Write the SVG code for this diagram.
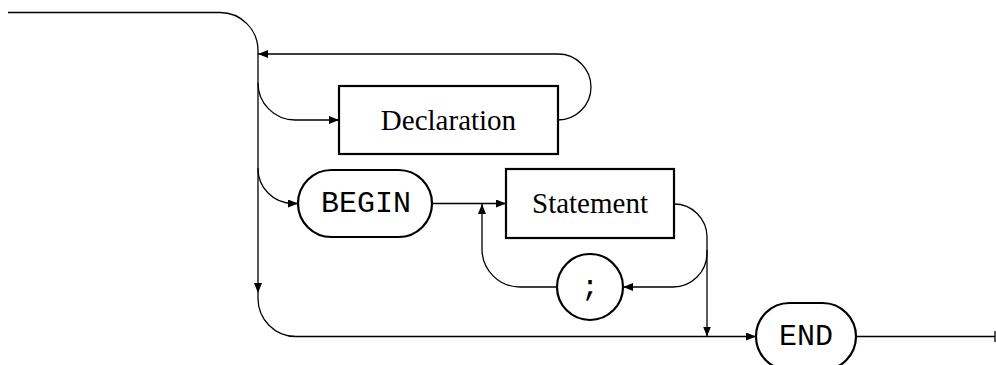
<svg xmlns="http://www.w3.org/2000/svg" width="996" height="365" viewBox="0 0 996 365">
<style>
.c{fill:none;stroke:#000;stroke-width:1.3}
.n{fill:#fff;stroke:#000;stroke-width:2.2}
.s{font-family:"Liberation Serif",serif;font-size:29px;text-anchor:middle}
.m{font-family:"Liberation Mono",monospace;font-size:30px;text-anchor:middle}
</style>
<defs>
<marker id="a" markerUnits="userSpaceOnUse" markerWidth="11" markerHeight="9" refX="10" refY="4" orient="auto" viewBox="0 0 11 9">
<path d="M0,0 L10,4 L0,8 z" fill="#000"/>
</marker>
</defs>
<g id="connectors">
<path class="c" d="M8,12.5 H220 A38,38 0 0 1 258,50.5 V293" marker-end="url(#a)"/>
<path class="c" d="M258,293 V298 A38,38 0 0 0 296,336.5 H756" marker-end="url(#a)"/>
<path class="c" d="M558,120 A33,33 0 0 0 558,54 H258" marker-end="url(#a)"/>
<path class="c" d="M258,83 A37,37 0 0 0 295,120 H339" marker-end="url(#a)"/>
<path class="c" d="M258,168 A35,35 0 0 0 293,203.5 H298" marker-end="url(#a)"/>
<path class="c" d="M432,203.5 H506" marker-end="url(#a)"/>
<path class="c" d="M557,287 H520 A38,38 0 0 1 482,249 V204" marker-end="url(#a)"/>
<path class="c" d="M674,204 A33,33 0 0 1 707,237 V253 A34,34 0 0 1 673,287 H623" marker-end="url(#a)"/>
<path class="c" d="M707,250 V336.5" marker-end="url(#a)"/>
<path class="c" d="M856,336.5 H995 M995,331 V342"/>
</g>
<g id="declaration">
<rect class="n" x="339" y="86" width="219" height="68"/>
<text class="s" x="448.5" y="130">Declaration</text>
</g>
<g id="begin">
<rect class="n" x="298" y="170" width="134" height="67" rx="33.5" ry="33.5"/>
<text class="m" x="366" y="212">BEGIN</text>
</g>
<g id="statement">
<rect class="n" x="506" y="169" width="168" height="69"/>
<text class="s" x="590" y="213">Statement</text>
</g>
<g id="semicolon">
<circle class="n" cx="590" cy="287" r="33"/>
<text class="m" x="590" y="296">;</text>
</g>
<g id="end">
<rect class="n" x="756" y="303" width="100" height="67" rx="33.5" ry="33.5"/>
<text class="m" x="806" y="345">END</text>
</g>
</svg>
